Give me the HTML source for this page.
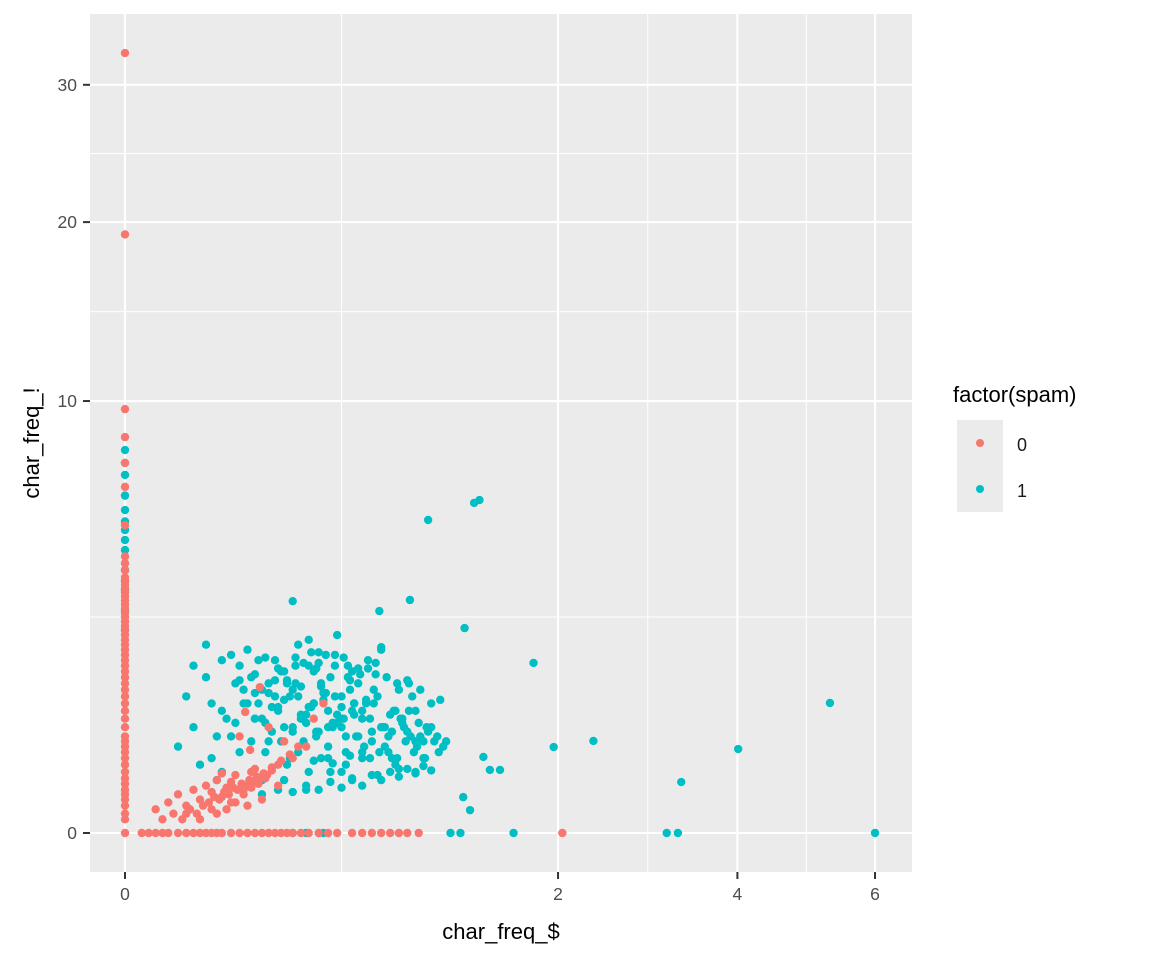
<!DOCTYPE html>
<html><head><meta charset="utf-8"><style>
body{margin:0;background:#fff;font-family:"Liberation Sans",sans-serif}
svg text{font-family:"Liberation Sans",sans-serif}
</style></head><body>
<svg id="chart" width="1152" height="960" viewBox="0 0 1152 960" xmlns="http://www.w3.org/2000/svg">
<rect width="1152" height="960" fill="#fff"/>
<rect x="90" y="14" width="822" height="858" fill="#EBEBEB"/>
<g id="grid"></g><g id="points"></g><g id="axes"></g>
<text x="501" y="939" font-size="22" text-anchor="middle" fill="#000">char_freq_$</text>
<text transform="translate(39,443) rotate(-90)" font-size="22" text-anchor="middle" fill="#000">char_freq_!</text>
<g>
<text x="953" y="402" font-size="22" fill="#000">factor(spam)</text>
<rect x="957" y="420" width="46" height="92" fill="#EBEBEB"/>
<circle cx="980" cy="443" r="4" fill="#F8766D"/>
<circle cx="980" cy="489" r="4" fill="#00BFC4"/>
<text x="1017" y="451" font-size="18" fill="#1a1a1a">0</text>
<text x="1017" y="497" font-size="18" fill="#1a1a1a">1</text>
</g>
</svg>
<script>
const xTicks=[0,2,4,6];
const yTicks=[0,10,20,30];
const redX=[0,0,0,0,0,0,0,0,0,0,0,0,0,0,0,0,0,0,0,0,0,0,0,0,0,0,0,0,0,0,0,0,0,0,0,0,0,0,0,0,0,0,0,0,0,0,0,0,0,0,0,0,0,0,0,0,
0.003,0.006,0.01,0.015,0.02,0.03,0.04,0.05,0.06,0.07,0.08,0.09,0.1,0.12,0.14,0.16,0.18,0.2,0.22,0.24,0.26,0.28,0.3,0.33,0.36,0.4,0.44,0.48,0.55,0.6,0.65,0.7,0.75,0.8,0.85,0.92,2.04,
0.01,0.02,0.03,0.04,0.05,0.06,0.07,0.08,0.09,0.1,0.11,0.12,0.13,0.15,0.17,0.19,0.21,0.23,0.25,0.04,0.08,0.12,0.16,0.2,0.154,0.194,0.167,0.14,0.22,0.3,0.25,0.35,0.1,0.18,0.27,
0.015,0.025,0.035,0.045,0.055,0.065,0.075,0.085,0.095,0.105,0.115,0.125,0.135,0.145,0.155,0.165,0.175,0.185,0.195,0.205,0.215,0.06,0.09,0.11,0.13,0.15,0.17,0.19,0.21,0.23,0.26,0.29,0.32,0.38,0.42];
const redY=[0,0.01,0.02,0.04,0.06,0.08,0.1,0.13,0.16,0.2,0.25,0.3,0.35,0.4,0.45,0.5,0.6,0.7,0.8,0.9,1.0,1.1,1.2,1.3,1.4,1.5,1.6,1.7,1.8,1.9,2.0,2.1,2.2,2.3,2.4,2.5,2.6,2.7,2.8,2.9,3.0,3.1,3.2,3.3,3.4,3.5,3.7,3.9,4.1,5.08,6.42,7.34,8.4,9.63,19.2,32.6,
0,0,0,0,0,0,0,0,0,0,0,0,0,0,0,0,0,0,0,0,0,0,0,0,0,0,0,0,0,0,0,0,0,0,0,0,0,
0.03,0.05,0.08,0.04,0.1,0.06,0.12,0.09,0.15,0.07,0.11,0.14,0.18,0.1,0.2,0.13,0.16,0.21,0.12,0.02,0.03,0.05,0.04,0.06,0.785,1.14,0.37,0.5,0.6,0.3,0.25,0.4,0.19,0.22,0.45,
0.01,0.02,0.01,0.03,0.02,0.04,0.05,0.07,0.06,0.09,0.08,0.11,0.1,0.13,0.12,0.15,0.14,0.17,0.16,0.19,0.18,0.01,0.02,0.03,0.05,0.08,0.11,0.14,0.17,0.23,0.28,0.33,0.4,0.7,0.9];
const cyanX=[0,0,0,0,0,0,0,0,0,0,0,0,0,0,
1.13,1.2,1.61,3.13,3.26,6.0,0.3,0.35,0.42,
1.30,1.34,0.98,0.30,0.866,0.69,1.23,1.78,5.30,1.96,2.34,4.01,3.30,1.22,1.27,1.42,1.50,1.37,
0.03,0.05,0.08,0.1,0.12,0.15,0.18,0.2,0.22,0.25,0.28,0.3,0.32,0.35,0.38,0.4,0.42,0.45,0.48,0.5,0.52,0.55,0.58,0.6,0.63,0.66,0.7,0.75,0.8,0.85,0.9,0.95,1.0,1.05,
0.06,0.09,0.13,0.17,0.21,0.24,0.27,0.31,0.34,0.37,0.41,0.44,0.47,0.51,0.54,0.57,0.62,0.67,0.72,0.78,0.83,0.88,0.93,
0.1,0.14,0.19,0.23,0.26,0.29,0.33,0.36,0.39,0.43,0.46,0.5,0.53,0.56,0.6,0.65,0.7,0.76,0.82,0.9,1.0,1.08,
0.16,0.2,0.24,0.28,0.32,0.36,0.4,0.44,0.48,0.52,0.58,0.64,0.7,0.78,0.86,0.96,
0.12,0.18,0.22,0.27,0.31,0.35,0.39,0.45,0.5,0.55,0.61,0.68,0.74,0.8,0.9,
0.04,0.07,0.11,0.14,0.16,0.19,0.22,0.25,0.27,0.3,0.33,0.36,0.38,0.41,0.44,0.47,0.5,0.53,0.56,0.6,0.64,0.68,0.72,0.77,0.82,0.87,0.92,0.98,1.04,1.1,
0.05,0.08,0.12,0.15,0.18,0.21,0.24,0.27,0.3,0.33,0.36,0.39,0.42,0.46,0.5,0.54,0.58,0.62,0.66,0.71,0.76,0.81,0.86,0.91,0.97,
0.09,0.13,0.17,0.2,0.23,0.26,0.29,0.32,0.35,0.38,0.41,0.44,0.48,0.52,0.56,0.6,0.65,0.69,0.74,0.79,0.84,0.89,0.95,1.02,
0.07,0.1,0.14,0.18,0.21,0.25,0.28,0.31,0.34,0.37,0.4,0.43,0.47,0.51,0.55,0.59,0.63,0.67,0.73,0.79,0.85,0.93,1.06,
0.2,0.25,0.3,0.35,0.4,0.45,0.5,0.55,0.6,0.65,0.7,0.75,0.8,0.85,0.9,0.95,1.0,0.38,0.46,0.54];
const cyanY=[7.86,7.34,6.87,5.59,4.92,4.29,3.71,3.16,2.66,2.21,6.1,5.2,4.6,3.4,
0,0,0,0,0,0,0,0,0,
5.84,5.94,5.25,2.88,2.91,2.64,2.25,1.55,0.906,0.396,0.454,0.378,0.139,0.069,0.028,0.213,0.213,0.31,
0.4,0.6,0.3,0.8,0.5,0.9,0.7,1.1,0.45,0.85,1.2,0.6,1.0,0.75,1.4,0.55,0.95,1.3,0.65,1.0,0.5,0.8,1.2,0.7,1.6,0.9,0.6,0.75,1.1,0.55,0.8,0.45,0.9,0.35,
0.25,0.5,0.65,1.3,0.35,1.0,0.6,1.5,0.45,0.85,1.15,0.4,1.7,0.7,1.25,0.5,0.95,1.35,0.4,0.8,0.6,1.0,0.5,
0.2,0.35,0.9,0.55,1.4,0.3,0.75,2.0,0.5,1.05,0.65,0.2,1.5,0.9,0.35,0.55,1.8,0.3,0.65,0.45,0.6,0.4,
1.8,0.15,1.6,0.25,1.9,0.2,1.75,0.3,2.1,0.25,1.45,0.3,1.85,0.25,1.2,0.3,
0.12,0.7,1.05,0.15,1.2,0.1,0.55,0.2,0.6,0.15,0.4,0.18,0.35,0.22,0.2,
1.0,1.3,0.7,1.5,0.9,1.6,1.2,0.8,1.4,1.1,0.7,1.5,0.9,1.2,0.8,1.0,0.7,1.3,0.9,0.8,0.7,1.0,0.6,0.8,0.7,0.5,0.65,0.55,0.5,0.45,
1.5,0.9,1.7,1.1,1.35,0.65,1.25,0.95,0.55,1.15,0.85,1.45,1.05,0.6,0.85,1.1,0.5,0.9,1.1,0.6,0.55,0.7,0.8,0.4,0.6,
0.15,1.2,0.45,0.7,0.85,0.45,1.0,0.35,0.65,0.9,0.3,0.6,0.75,0.35,0.75,0.3,0.45,0.35,0.5,0.3,0.45,0.35,0.3,0.45,
1.9,1.6,1.25,1.05,1.65,1.45,1.25,1.65,1.55,1.75,1.55,1.7,1.5,1.65,1.4,1.35,1.45,1.55,1.3,1.2,1.25,1.1,0.95,
0.08,0.1,0.09,0.12,0.1,0.14,0.11,0.16,0.12,0.18,0.15,0.2,0.17,0.22,0.19,0.24,0.21,0.28,0.26,0.32];
const X0=125,XS=306.2,Y0=833,YS=136.6;
function sx(v){return X0+XS*Math.sqrt(v);}
function sy(v){return Y0-YS*Math.sqrt(v);}
const NS="http://www.w3.org/2000/svg";
const grid=document.getElementById('grid'),axes=document.getElementById('axes'),pts=document.getElementById('points');
function line(p,x1,y1,x2,y2,w){const l=document.createElementNS(NS,'line');l.setAttribute('x1',x1);l.setAttribute('y1',y1);l.setAttribute('x2',x2);l.setAttribute('y2',y2);l.setAttribute('stroke','#fff');l.setAttribute('stroke-width',w);p.appendChild(l);return l;}
for(let i=0;i<xTicks.length;i++){
 const x=sx(xTicks[i]);
 const g=line(grid,x,14,x,872,2.1);
 
 
 if(i<xTicks.length-1){const m=X0+XS*(Math.sqrt(xTicks[i])+Math.sqrt(xTicks[i+1]))/2;const gm=line(grid,m,14,m,872,1);
 
 }
 const tk=line(axes,x,872,x,879,2);tk.setAttribute('stroke','#333');
 
 
 const t=document.createElementNS(NS,'text');t.setAttribute('x',x);t.setAttribute('y',900);t.setAttribute('text-anchor','middle');t.setAttribute('font-size','17.5');t.setAttribute('fill','#4D4D4D');t.textContent=xTicks[i];
 
 
 axes.appendChild(t);
}
for(let i=0;i<yTicks.length;i++){
 const y=sy(yTicks[i]);
 const g=line(grid,90,y,912,y,2.1);
 
 
 if(i<yTicks.length-1){const m=Y0-YS*(Math.sqrt(yTicks[i])+Math.sqrt(yTicks[i+1]))/2;const gm=line(grid,90,m,912,m,1);
 
 }
 const tk=line(axes,83,y,90,y,2);tk.setAttribute('stroke','#333');
 
 
 const t=document.createElementNS(NS,'text');t.setAttribute('x',77);t.setAttribute('y',y+6);t.setAttribute('text-anchor','end');t.setAttribute('font-size','17.5');t.setAttribute('fill','#4D4D4D');t.textContent=yTicks[i];
 
 
 axes.appendChild(t);
}
function dots(xs,ys,col,name){for(let i=0;i<xs.length;i++){const c=document.createElementNS(NS,'circle');c.setAttribute('cx',sx(xs[i]));c.setAttribute('cy',sy(ys[i]));c.setAttribute('r',4.2);c.setAttribute('fill',col);
 
 
 pts.appendChild(c);}}
dots(cyanX,cyanY,'#00BFC4','point-spam-1');
dots(redX,redY,'#F8766D','point-spam-0');
</script>
</body></html>
